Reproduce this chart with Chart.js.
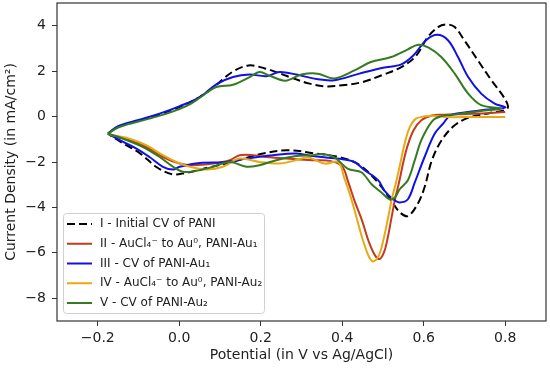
<!DOCTYPE html>
<html><head><meta charset="utf-8">
<script src="https://cdn.jsdelivr.net/npm/chart.js@4.4.1/dist/chart.umd.min.js"></script>
<style>html,body{margin:0;padding:0;background:#fff;}</style>
</head><body>
<canvas id="c" width="550" height="368"></canvas>
<script>
// ---- data ----
const xTicks = [-0.2, 0.0, 0.2, 0.4, 0.6, 0.8];
const yTicks = [-8, -6, -4, -2, 0, 2, 4];
const seriesLabels = [
  "I - Initial CV of PANI",
  "II - AuCl\u2084\u207B to Au\u2070, PANI-Au\u2081",
  "III - CV of PANI-Au\u2081",
  "IV - AuCl\u2084\u207B to Au\u2070, PANI-Au\u2082",
  "V - CV of PANI-Au\u2082"
];
// I - Initial CV of PANI (closed loop)
const pani_E = [-0.175,-0.15,-0.10,-0.05,0.00,0.05,0.09,0.13,0.17,0.21,0.25,0.28,0.32,0.36,0.40,0.45,0.50,0.545,0.58,0.61,0.635,0.655,0.676,0.70,0.733,0.766,0.80,
  0.805,0.76,0.713,0.676,0.644,0.62,0.602,0.585,0.561,0.541,0.521,0.487,0.443,0.394,0.328,0.264,0.197,0.136,0.075,0.013,-0.018,-0.055,-0.097,-0.139,-0.175];
const pani_I = [-0.75,-0.45,-0.18,0.08,0.42,0.86,1.38,1.96,2.25,2.12,1.88,1.68,1.45,1.33,1.38,1.52,1.84,2.18,2.65,3.5,3.94,4.06,3.94,3.35,2.47,1.6,0.75,
  0.35,0.15,-0.03,-0.38,-1.04,-1.92,-3.11,-3.85,-4.38,-4.21,-3.72,-2.89,-2.14,-1.79,-1.61,-1.48,-1.66,-1.97,-2.23,-2.49,-2.54,-2.23,-1.61,-1.17,-0.75];
// II - AuCl4- to Au0, PANI-Au1 (cathodic sweep)
const dep1_E = [0.80,0.72,0.65,0.62,0.594,0.575,0.56,0.55,0.54,0.53,0.521,0.512,0.503,0.492,0.48,0.465,0.449,0.43,0.415,0.40,0.37,0.328,0.263,0.214,0.181,0.148,0.124,0.083,0.034,0.001,-0.04,-0.081,-0.122,-0.154,-0.175];
const dep1_I = [0.2,0.12,0.08,0.05,-0.16,-0.6,-1.3,-2.0,-2.85,-3.6,-4.44,-5.3,-5.95,-6.27,-6.1,-5.5,-4.6,-3.7,-2.9,-2.2,-1.95,-1.92,-1.85,-1.78,-1.7,-1.7,-1.92,-2.07,-2.14,-2.07,-1.78,-1.34,-1.04,-0.9,-0.75];
// III - CV of PANI-Au1 (closed loop)
const au1_E = [-0.175,-0.15,-0.10,-0.05,0.00,0.05,0.091,0.132,0.173,0.214,0.246,0.287,0.337,0.38,0.44,0.50,0.545,0.575,0.605,0.633,0.66,0.684,0.709,0.741,0.774,0.80,
  0.75,0.70,0.665,0.648,0.627,0.602,0.578,0.561,0.541,0.525,0.504,0.488,0.455,0.43,0.398,0.36,0.328,0.287,0.23,0.165,0.116,0.05,0.001,-0.015,-0.04,-0.073,-0.105,-0.146,-0.175];
const au1_I = [-0.75,-0.42,-0.15,0.12,0.45,0.85,1.42,1.74,1.85,1.78,1.96,1.85,1.65,1.6,1.88,2.15,2.3,2.7,3.35,3.6,3.35,2.62,1.74,1.01,0.57,0.4,
  0.3,0.18,0.05,-0.3,-0.75,-1.78,-2.9,-3.64,-3.78,-3.64,-3.27,-2.8,-2.36,-2.0,-1.87,-1.8,-1.74,-1.63,-1.7,-1.85,-2.0,-2.04,-2.21,-2.33,-2.21,-1.78,-1.41,-1.04,-0.75];
// IV - AuCl4- to Au0, PANI-Au2 (cathodic sweep)
const dep2_E = [0.80,0.713,0.655,0.623,0.60,0.58,0.565,0.553,0.542,0.532,0.522,0.512,0.50,0.49,0.476,0.465,0.45,0.435,0.42,0.405,0.39,0.357,0.316,0.28,0.246,0.197,0.148,0.107,0.067,0.026,-0.007,-0.04,-0.081,-0.122,-0.163,-0.175];
const dep2_I = [-0.02,-0.02,-0.02,0.04,0.0,-0.1,-0.5,-1.2,-2.1,-2.9,-3.6,-4.5,-5.5,-6.1,-6.38,-6.15,-5.4,-4.44,-3.5,-2.7,-2.0,-2.07,-1.8,-1.95,-2.07,-2.0,-1.85,-2.21,-2.33,-2.21,-2.0,-1.7,-1.26,-0.97,-0.82,-0.75];
// V - CV of PANI-Au2 (closed loop)
const au2_E = [-0.175,-0.15,-0.10,-0.05,0.00,0.03,0.06,0.091,0.132,0.173,0.197,0.222,0.26,0.30,0.34,0.38,0.43,0.47,0.52,0.56,0.586,0.612,0.643,0.676,0.709,0.741,0.79,
  0.74,0.68,0.64,0.619,0.594,0.578,0.561,0.541,0.529,0.516,0.496,0.472,0.447,0.414,0.381,0.349,0.328,0.287,0.238,0.197,0.165,0.124,0.083,0.042,0.009,-0.015,-0.048,-0.089,-0.138,-0.175];
const au2_I = [-0.75,-0.48,-0.22,0.03,0.33,0.58,0.95,1.3,1.4,1.74,1.96,1.8,1.58,1.85,1.89,1.68,2.03,2.4,2.62,2.95,3.16,3.04,2.62,1.89,1.01,0.5,0.35,
  0.25,0.1,0.0,-0.24,-1.04,-1.92,-2.8,-3.2,-3.56,-3.64,-3.34,-2.98,-2.45,-2.3,-1.8,-1.65,-1.7,-1.74,-1.92,-2.14,-2.21,-2.0,-2.21,-2.39,-2.43,-2.21,-1.78,-1.34,-0.97,-0.75];

// ---- helpers ----
function pts(E, I) { return E.map((e, i) => ({ x: e, y: I[i] })); }
function fmt(v, dec) {
  const s = Math.abs(v).toFixed(dec);
  return (v < -1e-9 ? '\u2212' : '') + s;
}

const FONT = 'DejaVu Sans';
Chart.defaults.font.family = FONT;
Chart.defaults.color = '#222';

const framePlugin = {
  id: 'frame',
  afterDatasetsDraw(chart) {
    const a = chart.chartArea, ctx = chart.ctx;
    ctx.save();
    ctx.strokeStyle = '#333';
    ctx.lineWidth = 1.2;
    ctx.strokeRect(a.left, a.top, a.right - a.left, a.bottom - a.top);
    ctx.restore();
  }
};

const legendPlugin = {
  id: 'boxLegend',
  afterDraw(chart) {
    const ctx = chart.ctx;
    const x0 = 63.5, y0 = 213.5, w = 201, h = 100;
    ctx.save();
    ctx.beginPath();
    ctx.roundRect(x0, y0, w, h, 3);
    ctx.fillStyle = 'rgba(255,255,255,0.85)';
    ctx.fill();
    ctx.strokeStyle = '#d0d0d0';
    ctx.lineWidth = 1;
    ctx.stroke();
    chart.data.datasets.forEach((ds, i) => {
      const cy = 224 + i * 19.75;
      ctx.beginPath();
      ctx.setLineDash(ds.borderDash || []);
      ctx.strokeStyle = ds.borderColor;
      ctx.lineWidth = ds.borderWidth;
      ctx.moveTo(67, cy);
      ctx.lineTo(92, cy);
      ctx.stroke();
      ctx.setLineDash([]);
      ctx.fillStyle = '#222';
      ctx.font = '12px "' + FONT + '"';
      ctx.textBaseline = 'middle';
      ctx.textAlign = 'left';
      ctx.fillText(ds.label, 100, cy);
    });
    ctx.restore();
  }
};

const common = { showLine: true, pointRadius: 0, borderWidth: 2, tension: 0.35, fill: false };

new Chart(document.getElementById('c'), {
  type: 'scatter',
  data: {
    datasets: [
      Object.assign({ label: seriesLabels[0], data: pts(pani_E, pani_I), borderColor: '#000000', borderDash: [8, 4], order: 5 }, common),
      Object.assign({ label: seriesLabels[1], data: pts(dep1_E, dep1_I), borderColor: '#c23b1e', order: 4 }, common),
      Object.assign({ label: seriesLabels[2], data: pts(au1_E, au1_I), borderColor: '#1010e8', order: 3 }, common),
      Object.assign({ label: seriesLabels[3], data: pts(dep2_E, dep2_I), borderColor: '#e8a915', order: 2 }, common),
      Object.assign({ label: seriesLabels[4], data: pts(au2_E, au2_I), borderColor: '#357a1e', order: 1 }, common)
    ]
  },
  options: {
    responsive: false,
    animation: false,
    devicePixelRatio: 1,
    layout: { padding: { top: 3, right: 4, left: 0, bottom: 0 } },
    plugins: { legend: { display: false }, tooltip: { enabled: false } },
    scales: {
      x: {
        type: 'linear', min: -0.3, max: 0.9,
        afterBuildTicks: s => { s.ticks = xTicks.map(v => ({ value: v })); },
        afterFit: s => { s.height = 47; s.paddingLeft = 0; s.paddingRight = 0; },
        grid: { display: true, drawOnChartArea: false, drawTicks: true, tickLength: 5, tickColor: '#333' },
        border: { display: false },
        ticks: { callback: v => fmt(v, 1), font: { size: 14 }, color: '#222', padding: 4, maxRotation: 0, autoSkip: false },
        title: { display: true, text: 'Potential (in V vs Ag/AgCl)', font: { size: 14 }, color: '#222', padding: { top: 0, bottom: 4 } }
      },
      y: {
        type: 'linear', min: -9, max: 5,
        afterBuildTicks: s => { s.ticks = yTicks.map(v => ({ value: v })); },
        afterFit: s => { s.width = 57; s.paddingTop = 0; s.paddingBottom = 0; },
        grid: { display: true, drawOnChartArea: false, drawTicks: true, tickLength: 5, tickColor: '#333' },
        border: { display: false },
        ticks: { callback: v => fmt(v, 0), font: { size: 14 }, color: '#222', padding: 6, autoSkip: false },
        title: { display: true, text: 'Current Density (in mA/cm\u00B2)', font: { size: 14 }, color: '#222', padding: { top: 3, bottom: 0 } }
      }
    }
  },
  plugins: [framePlugin, legendPlugin]
});
</script>
</body></html>
